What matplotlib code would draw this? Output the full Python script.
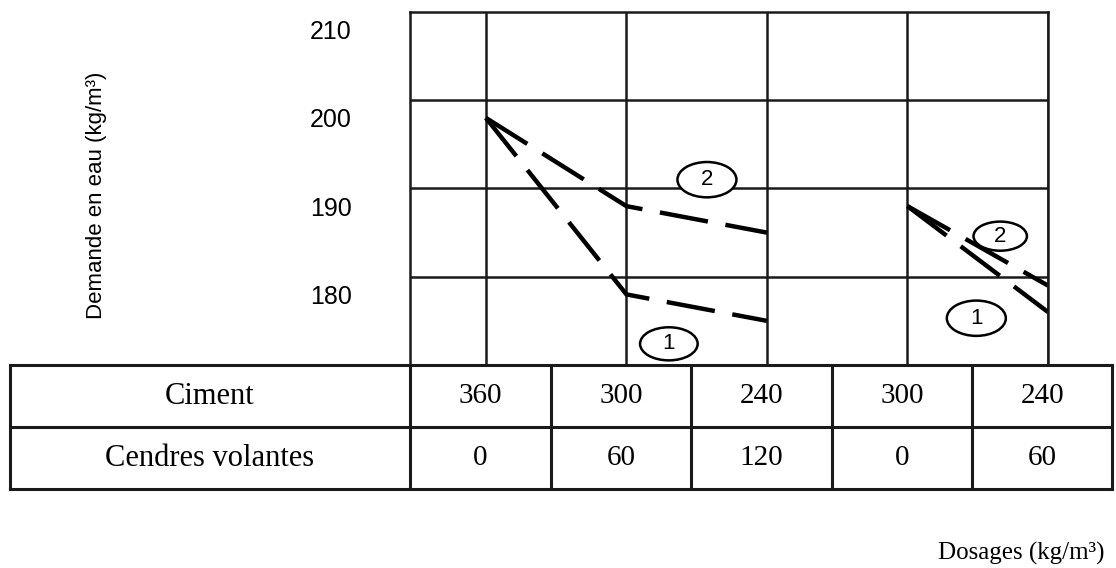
import numpy as np
import matplotlib
matplotlib.use("Agg")
import matplotlib.pyplot as plt
from matplotlib.patches import Ellipse

# Données
positions = [0, 1, 2, 3, 4]
ciment = [360, 300, 240, 300, 240]
cendres = [0, 60, 120, 0, 60]

# groupe de gauche (colonnes 0-2) et groupe de droite (colonnes 3-4)
x_gauche = [0, 1, 2]
courbe1_gauche = [200, 180, 177]
courbe2_gauche = [200, 190, 187]
x_droite = [3, 4]
courbe1_droite = [190, 178]
courbe2_droite = [190, 181]

y_ticks = [180, 190, 200, 210]
y_grid = [182, 192, 202]

W, H = 1116, 568
fig = plt.figure(figsize=(W / 100, H / 100), dpi=100)

# --- graphique ---
ax = fig.add_axes([410 / W, 1 - 365 / H, 638 / W, 353 / H])
ax.set_xlim(-0.54, 4.0)
ax.set_ylim(172, 212)

style = dict(color="black", lw=3.2, linestyle=(0, (11, 4)), solid_capstyle="butt")
ax.plot(x_gauche, courbe1_gauche, **style)
ax.plot(x_gauche, courbe2_gauche, **style)
ax.plot(x_droite, courbe1_droite, **style)
ax.plot(x_droite, courbe2_droite, **style)

ax.set_xticks(positions)
ax.set_xticklabels([])
ax.set_yticks(y_ticks)
ax.set_yticks(y_grid, minor=True)
ax.tick_params(axis="both", which="both", length=0)
ax.tick_params(axis="y", pad=42, labelsize=18)
for lab in ax.get_yticklabels():
    lab.set_family("Liberation Sans")
ax.grid(True, axis="x", which="major", color="#1a1a1a", lw=1.8)
ax.grid(True, axis="y", which="minor", color="#1a1a1a", lw=1.8)
for s in ax.spines.values():
    s.set_linewidth(1.8)
    s.set_color("#1a1a1a")

ax.set_ylabel("Demande en eau (kg/m³)", fontsize=16, family="Liberation Sans")
ax.yaxis.set_label_coords(-0.475, 0.48)

# étiquettes cerclées
for (xc, yc, txt, w, h) in [(1.573, 193.0, "2", 0.42, 4.0),
                            (1.302, 174.4, "1", 0.41, 3.75),
                            (3.66, 186.6, "2", 0.38, 3.3),
                            (3.49, 177.3, "1", 0.42, 4.0)]:
    ax.add_patch(Ellipse((xc, yc), w, h, facecolor="white", edgecolor="black",
                         lw=1.8, zorder=5))
    ax.text(xc, yc, txt, ha="center", va="center", fontsize=16,
            family="Liberation Sans", zorder=6)

# --- tableau ---
tx = fig.add_axes([10 / W, 1 - 489 / H, 1102 / W, 124 / H])
tx.set_xlim(-3.388, 4.456)
tx.set_ylim(0, 2)
tx.set_xticks([])
tx.set_yticks([])
for s in tx.spines.values():
    s.set_linewidth(2.2)
    s.set_color("#1a1a1a")
tx.axhline(1, color="#1a1a1a", lw=2.2)
for e in np.arange(-1, 4) + 0.46:
    tx.axvline(e, color="#1a1a1a", lw=2.2)

serif = "Liberation Serif"
label_x = (-3.388 - 0.54) / 2
tx.text(label_x, 1.5, "Ciment", ha="center", va="center", fontsize=22, family=serif)
tx.text(label_x, 0.5, "Cendres volantes", ha="center", va="center", fontsize=22,
        family=serif)
for p, c, v in zip(positions, ciment, cendres):
    tx.text(p - 0.04, 1.5, str(c), ha="center", va="center", fontsize=21, family=serif)
    tx.text(p - 0.04, 0.5, str(v), ha="center", va="center", fontsize=21, family=serif)

fig.text(1105 / W, 1 - 553 / H, "Dosages (kg/m³)", ha="right", va="center",
         fontsize=18, family=serif)

fig.savefig("out.png", dpi=100)
